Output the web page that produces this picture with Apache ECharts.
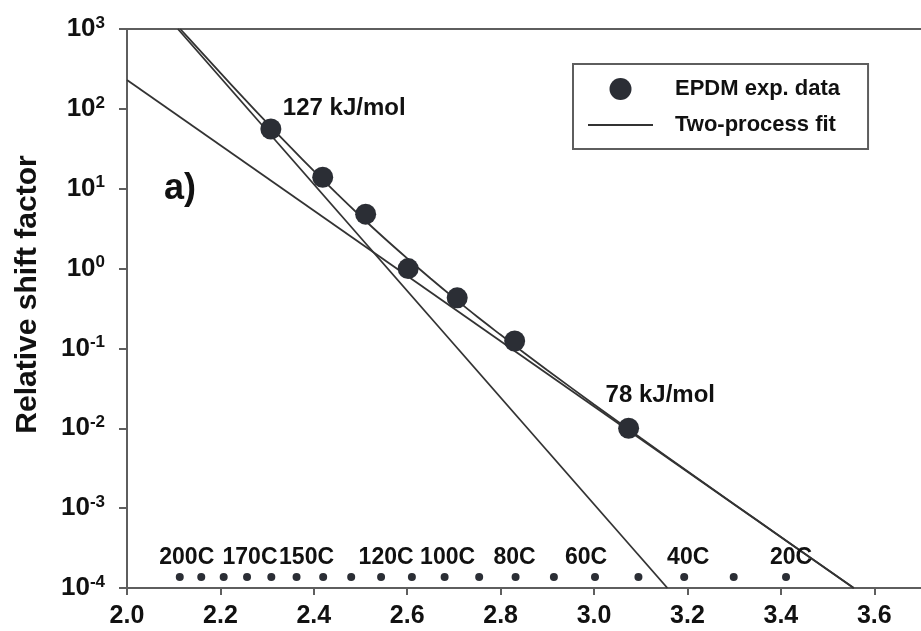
<!DOCTYPE html>
<html>
<head>
<meta charset="utf-8">
<script src="https://cdn.jsdelivr.net/npm/echarts@6/dist/echarts.min.js"></script>
<style>
  html, body { margin: 0; padding: 0; background: #ffffff; }
  #chart { width: 921px; height: 631px; }
</style>
</head>
<body>
<div id="chart"></div>
<script>
// Shift factors of EPDM versus 1000/T (1/K)
const expX = [2.308, 2.419, 2.511, 2.602, 2.707, 2.830, 3.074];
const expY = [56, 13.9, 4.8, 1.0, 0.43, 0.124, 0.0100];
// Activation energies written next to the end points
const expNotes = ['127 kJ/mol', '', '', '', '', '', '78 kJ/mol'];

// Two-process fit curve
const fitX = [2.114, 2.15, 2.2, 2.25, 2.3, 2.35, 2.4, 2.45, 2.5, 2.55, 2.6, 2.65,
              2.7, 2.75, 2.8, 2.85, 2.9, 3.0, 3.1, 3.2, 3.3, 3.4, 3.556];
const fitY = [1000, 589, 282, 136, 66.7, 33.1, 16.7, 8.60, 4.52, 2.43, 1.34, 0.750,
              0.429, 0.249, 0.148, 0.0881, 0.0533, 0.0199, 0.00755, 0.00290, 0.00112, 0.000436, 0.000100];

// Single-process Arrhenius lines (end points)
const highTX = [2.109, 3.157];
const highTY = [1000, 0.0001];
const lowTX = [2.0, 3.556];
const lowTY = [230, 0.0001];

// Temperature scale along the bottom: 200C down to 20C in 10C steps
const tempX = [2.113, 2.159, 2.207, 2.257, 2.309, 2.363, 2.420, 2.480, 2.544, 2.610,
               2.680, 2.754, 2.832, 2.914, 3.002, 3.095, 3.193, 3.299, 3.411];
const tempLabels = ['200C', '', '', '170C', '', '150C', '', '', '120C', '', '100C', '',
                    '80C', '', '60C', '', '40C', '', '20C'];
const tempRowY = 1.37e-4;

// Axis text
const yAxisTitle = 'Relative shift factor';
const panelTag = 'a)';
const legendNames = ['EPDM exp. data', 'Two-process fit'];

// Horizontal nudges of the temperature labels (px)
const tempLabelShift = [7, 0, 0, 3, 0, 10, 0, 0, 5, 0, 3, 0, -1, 0, -9, 0, 4, 0, 5];

const FONT = '"Liberation Sans", Arial, Helvetica, sans-serif';
const AXIS_COLOR = '#5e5e5e';
const INK = '#2b2e35';
const LINE = '#333333';

const chart = echarts.init(document.getElementById('chart'), null, { renderer: 'canvas' });

const zip = (xs, ys) => xs.map((x, i) => [x, ys[i]]);

const expData = expX.map((x, i) => {
  const item = { value: [x, expY[i]] };
  if (expNotes[i]) {
    const first = i === 0;
    item.label = {
      show: true,
      formatter: expNotes[i],
      position: 'inside',
      align: 'left',
      verticalAlign: 'middle',
      offset: first ? [12, -21] : [-23, -33],
      fontFamily: FONT,
      fontWeight: 'bold',
      fontSize: 24,
      color: '#111'
    };
  }
  return item;
});

const tempData = tempX.map((x, i) => {
  const item = { value: [x, tempRowY] };
  if (tempLabels[i]) {
    item.label = {
      show: true,
      formatter: tempLabels[i],
      position: 'top',
      distance: 4,
      offset: [tempLabelShift[i], 0],
      fontFamily: FONT,
      fontWeight: 'bold',
      fontSize: 23,
      color: '#111'
    };
  }
  return item;
});

const option = {
  backgroundColor: '#ffffff',
  animation: false,
  grid: { left: 127, top: 29, bottom: 43, right: -11.5, containLabel: false },
  xAxis: [
    {
      type: 'value',
      min: 2.0,
      max: 3.7,
      interval: 0.2,
      axisLine: { onZero: false, lineStyle: { color: AXIS_COLOR, width: 2 } },
      axisTick: { show: true, inside: false, length: 7, lineStyle: { color: AXIS_COLOR, width: 2 } },
      axisLabel: {
        margin: 16,
        fontFamily: FONT,
        fontWeight: 'bold',
        fontSize: 25,
        color: '#111',
        showMaxLabel: false,
        formatter: v => {
          const k = Math.round((v - 2.0) / 0.2);
          return Math.abs(2.0 + k * 0.2 - v) < 1e-6 ? v.toFixed(1) : '';
        }
      },
      splitLine: { show: false }
    },
    {
      type: 'value',
      position: 'top',
      min: 2.0,
      max: 3.7,
      interval: 0.2,
      axisLine: { onZero: false, lineStyle: { color: AXIS_COLOR, width: 2 } },
      axisTick: { show: false },
      axisLabel: { show: false },
      splitLine: { show: false }
    }
  ],
  yAxis: {
    type: 'log',
    logBase: 10,
    min: 1e-4,
    max: 1e3,
    interval: 1,
    name: yAxisTitle,
    nameLocation: 'middle',
    nameGap: 84,
    nameRotate: 90,
    nameTextStyle: {
      fontFamily: FONT,
      fontWeight: 'bold',
      fontSize: 30,
      color: '#111',
      padding: [0, 0, 0, 28]
    },
    axisLine: { show: true, onZero: false, lineStyle: { color: AXIS_COLOR, width: 2 } },
    axisTick: { show: true, inside: false, length: 8, lineStyle: { color: AXIS_COLOR, width: 2 } },
    axisLabel: {
      margin: 22,
      color: '#111',
      formatter: v => '{b|10}{s|' + Math.round(Math.log10(v)) + '}',
      rich: {
        b: { fontFamily: FONT, fontWeight: 'bold', fontSize: 26, color: '#111' },
        s: { fontFamily: FONT, fontWeight: 'bold', fontSize: 17, color: '#111', padding: [0, 0, 12, 0] }
      }
    },
    splitLine: { show: false },
    minorTick: { show: false }
  },
  legend: {
    orient: 'vertical',
    left: 573,
    top: 64,
    padding: [14, 28, 13, 15],
    itemGap: 14,
    itemWidth: 65,
    itemHeight: 22,
    borderColor: AXIS_COLOR,
    borderWidth: 2,
    borderRadius: 0,
    backgroundColor: '#ffffff',
    selectedMode: false,
    textStyle: {
      fontFamily: FONT,
      fontWeight: 'bold',
      fontSize: 22,
      color: '#111',
      padding: [0, 0, 0, 17]
    },
    data: [
      { name: legendNames[0], icon: 'circle', itemStyle: { color: INK } },
      { name: legendNames[1], icon: 'path://M0,0H65V2H0Z', itemStyle: { color: LINE, borderWidth: 0 } }
    ]
  },
  graphic: [
    {
      type: 'text',
      left: 164,
      top: 171,
      style: { text: panelTag, font: 'bold 36px ' + FONT, fill: '#111' }
    }
  ],
  series: [
    {
      name: 'High-temperature process',
      type: 'line',
      data: zip(highTX, highTY),
      symbol: 'none',
      silent: true,
      lineStyle: { color: LINE, width: 1.8 },
      z: 2
    },
    {
      name: 'Low-temperature process',
      type: 'line',
      data: zip(lowTX, lowTY),
      symbol: 'none',
      silent: true,
      lineStyle: { color: LINE, width: 1.8 },
      z: 2
    },
    {
      name: legendNames[1],
      type: 'line',
      data: zip(fitX, fitY),
      symbol: 'none',
      smooth: 0.25,
      silent: true,
      lineStyle: { color: LINE, width: 1.8 },
      itemStyle: { color: LINE },
      z: 2
    },
    {
      name: legendNames[0],
      type: 'scatter',
      data: expData,
      symbol: 'circle',
      symbolSize: 21,
      itemStyle: { color: INK, opacity: 1 },
      z: 3
    },
    {
      name: 'Temperature scale',
      type: 'scatter',
      data: tempData,
      symbol: 'circle',
      symbolSize: 8,
      itemStyle: { color: INK, opacity: 1 },
      z: 3
    }
  ]
};

chart.setOption(option);
</script>
</body>
</html>
